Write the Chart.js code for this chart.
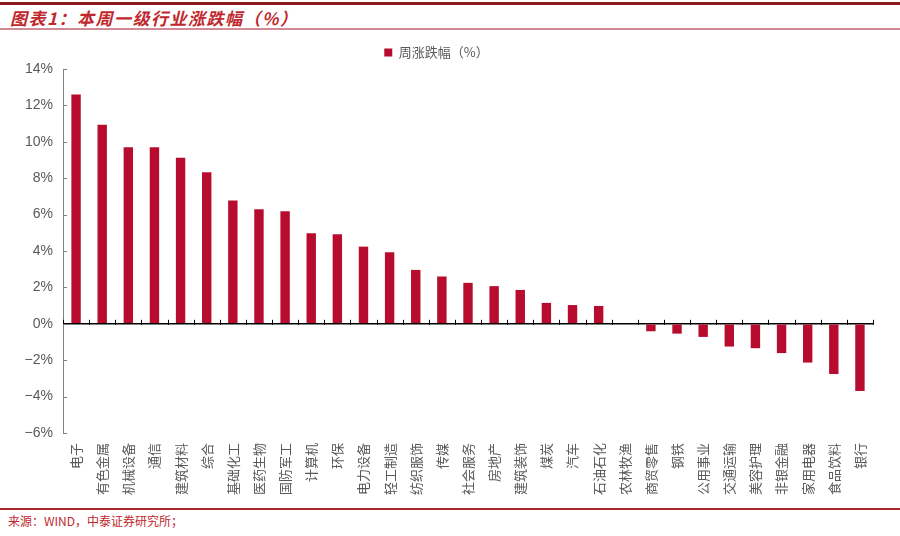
<!DOCTYPE html>
<html>
<head>
<meta charset="utf-8">
<script src="https://cdn.jsdelivr.net/npm/chart.js@4.4.1/dist/chart.umd.min.js"></script>
<style>
  body { margin: 0; background: #fff; font-family: "Noto Sans CJK SC", "Liberation Sans", sans-serif; }
  #page { position: relative; width: 900px; height: 536px; overflow: hidden; }
  #topline { position: absolute; left: 0; top: 2px; width: 900px; height: 3px; background: #8e1b1f; }
  #title { position: absolute; left: 10px; top: 5px; font-size: 17px; font-weight: bold; font-style: italic; color: #c0282d; letter-spacing: 1.5px; }
  #titleline { position: absolute; left: 0; top: 28px; width: 900px; height: 2px; background: #cf8a96; }
  #box { position: absolute; left: 0; top: 36px; width: 900px; height: 470px; }
  #footline { position: absolute; left: 0; top: 508px; width: 900px; height: 2px; background: #a5282d; }
  #source { position: absolute; left: 8px; top: 512px; font-size: 12px; color: #c0282d; }
</style>
</head>
<body>
<div id="page">
  <div id="topline"></div>
  <div id="title">图表1：本周一级行业涨跌幅（%）</div>
  <div id="titleline"></div>
  <div id="box"><canvas id="myChart"></canvas></div>
  <div id="footline"></div>
  <div id="source">来源：WIND，中泰证券研究所；</div>
</div>
<script>
// 申万一级行业
const industries = [
    '电子', '有色金属', '机械设备', '通信', '建筑材料', '综合', '基础化工', '医药生物',
    '国防军工', '计算机', '环保', '电力设备', '轻工制造', '纺织服饰', '传媒', '社会服务',
    '房地产', '建筑装饰', '煤炭', '汽车', '石油石化', '农林牧渔', '商贸零售', '钢铁',
    '公用事业', '交通运输', '美容护理', '非银金融', '家用电器', '食品饮料', '银行'
]
// 周涨跌幅 (%)
const weeklyChange = [
    12.6, 10.93, 9.7, 9.7, 9.12, 8.33, 6.77, 6.29,
    6.19, 4.97, 4.92, 4.24, 3.93, 2.96, 2.6, 2.25,
    2.07, 1.86, 1.15, 1.03, 0.98, 0, -0.41, -0.54,
    -0.72, -1.25, -1.34, -1.61, -2.13, -2.76, -3.69
]
const yTicks = [-6, -4, -2, 0, 2, 4, 6, 8, 10, 12, 14]

const barColor = '#b80c2f'
const grey = '#595959'

// small tick marks like the excel original
const axisTicks = {
    id: 'axisTicks',
    afterDatasetsDraw(chart) {
        const ctx = chart.ctx
        const x = chart.scales.x
        const y = chart.scales.y
        const y0 = y.getPixelForValue(0)
        const step = x.getPixelForValue(1) - x.getPixelForValue(0)
        ctx.save()
        ctx.strokeStyle = '#000'
        ctx.lineWidth = 1
        ctx.beginPath()
        for (let i = 0; i <= industries.length; i++) {
            const px = Math.round(x.getPixelForValue(0) - step / 2 + i * step) + 0.5
            ctx.moveTo(px, y0 - 4)
            ctx.lineTo(px, y0 + 1)
        }
        ctx.stroke()
        ctx.strokeStyle = '#808080'
        ctx.beginPath()
        yTicks.forEach(v => {
            const py = Math.round(y.getPixelForValue(v)) + 0.5
            ctx.moveTo(chart.chartArea.left, py)
            ctx.lineTo(chart.chartArea.left + 4, py)
        })
        ctx.stroke()
        ctx.restore()
    }
}

const context = document.getElementById('myChart').getContext('2d')
const myChart = new Chart(context, {
    type: 'bar',
    data: {
        labels: industries,
        datasets: [{
            label: '周涨跌幅（%）',
            data: weeklyChange,
            backgroundColor: barColor,
            borderWidth: 0,
            categoryPercentage: 1,
            barPercentage: 0.36
        }]
    },
    options: {
        responsive: true,
        maintainAspectRatio: false,
        animation: false,
        layout: { padding: { left: 0, right: 27, top: 7, bottom: 0 } },
        plugins: {
            legend: {
                position: 'top',
                labels: {
                    boxWidth: 8,
                    boxHeight: 8,
                    padding: 3,
                    color: grey,
                    font: { family: 'Noto Sans CJK SC', size: 13 }
                }
            },
            tooltip: { enabled: false }
        },
        scales: {
            x: {
                grid: { display: false },
                border: { display: false },
                ticks: {
                    autoSkip: false,
                    minRotation: 90,
                    maxRotation: 90,
                    padding: 2,
                    color: grey,
                    font: { family: 'Noto Sans CJK SC', size: 13 }
                },
                afterFit(scale) { scale.height = 73 }
            },
            y: {
                min: -6,
                max: 14,
                afterBuildTicks(scale) { scale.ticks = yTicks.map(v => ({ value: v })) },
                grid: {
                    drawTicks: false,
                    lineWidth: 1.5,
                    color: c => (c.tick && c.tick.value === 0 ? '#000' : 'rgba(0,0,0,0)')
                },
                border: { display: true, color: '#808080', width: 1 },
                ticks: {
                    padding: 10,
                    color: grey,
                    font: { family: 'Liberation Sans', size: 14 },
                    callback: v => (v < 0 ? '−' + Math.abs(v) : v) + '%'
                },
                afterFit(scale) { scale.width = 63 }
            }
        }
    },
    plugins: [axisTicks]
})
</script>
</body>
</html>
